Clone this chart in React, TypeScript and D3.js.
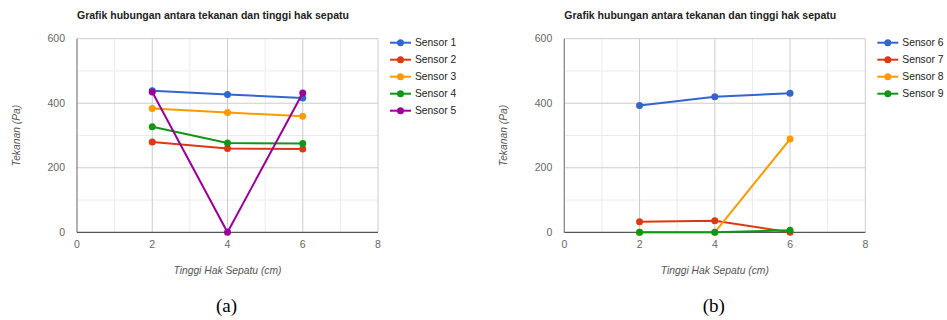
import React, { useEffect, useRef } from 'react';
import * as d3 from 'd3';

// tinggi hak sepatu (cm)
const heights = [2, 4, 6];

// panel (a)
const namesA = ['Sensor 1', 'Sensor 2', 'Sensor 3', 'Sensor 4', 'Sensor 5'];
const sensor1 = [439, 427, 416];
const sensor2 = [280, 260, 258];
const sensor3 = [384, 371, 360];
const sensor4 = [327, 277, 275];
const sensor5 = [435, 0, 432];

// panel (b)
const namesB = ['Sensor 6', 'Sensor 7', 'Sensor 8', 'Sensor 9'];
const sensor6 = [393, 420, 431];
const sensor7 = [33, 36, 0];
const sensor8 = [0, 0, 289];
const sensor9 = [0, 0, 6];

const xTicks = [0, 2, 4, 6, 8];
const yTicks = [0, 200, 400, 600];
const colors = ['#3366cc', '#dc3912', '#ff9900', '#109618', '#990099'];

const title = 'Grafik hubungan antara tekanan dan tinggi hak sepatu';
const xTitle = 'Tinggi Hak Sepatu (cm)';
const yTitle = 'Tekanan (Pa)';

const font = '"Liberation Sans", Arial, sans-serif';

function drawPanel(svg: any, left: number, names: string[], series: number[][], caption: string) {
  const width = 301, top = 38.7, bottom = 232.3;
  const x = d3.scaleLinear().domain([0, 8]).range([left, left + width]);
  const y = d3.scaleLinear().domain([0, 600]).range([bottom, top]);
  const g = svg.append('g');

  // minor grid
  d3.range(1, 8, 2).forEach(v => {
    g.append('line').attr('x1', x(v)).attr('x2', x(v)).attr('y1', top).attr('y2', bottom)
      .attr('stroke', '#ebebeb').attr('stroke-width', 1);
  });
  d3.range(100, 600, 200).forEach(v => {
    g.append('line').attr('x1', x(0)).attr('x2', x(8)).attr('y1', y(v)).attr('y2', y(v))
      .attr('stroke', '#ebebeb').attr('stroke-width', 1);
  });
  // major grid
  xTicks.slice(1).forEach(v => {
    g.append('line').attr('x1', x(v)).attr('x2', x(v)).attr('y1', top).attr('y2', bottom)
      .attr('stroke', '#cccccc').attr('stroke-width', 1);
  });
  yTicks.slice(1).forEach(v => {
    g.append('line').attr('x1', x(0)).attr('x2', x(8)).attr('y1', y(v)).attr('y2', y(v))
      .attr('stroke', '#cccccc').attr('stroke-width', 1);
  });
  // baselines
  g.append('line').attr('x1', x(0)).attr('x2', x(0)).attr('y1', top).attr('y2', bottom)
    .attr('stroke', '#888').attr('stroke-width', 1.3);
  g.append('line').attr('x1', x(0)).attr('x2', x(8)).attr('y1', y(0)).attr('y2', y(0))
    .attr('stroke', '#555').attr('stroke-width', 1.3);

  // tick labels
  g.selectAll('.yt').data(yTicks).enter().append('text')
    .attr('x', x(0) - 12).attr('y', d => y(d) + 3.7)
    .attr('text-anchor', 'end').attr('font-family', font).attr('font-size', 10.5)
    .attr('fill', '#666').text(d => d);
  g.selectAll('.xt').data(xTicks).enter().append('text')
    .attr('x', d => x(d)).attr('y', 247.5)
    .attr('text-anchor', 'middle').attr('font-family', font).attr('font-size', 10.5)
    .attr('fill', '#666').text(d => d);

  // titles
  g.append('text').attr('x', left).attr('y', 18.5).attr('font-family', font)
    .attr('font-size', 10.5).attr('font-weight', 'bold').attr('fill', '#222').text(title);
  g.append('text').attr('x', x(4)).attr('y', 274).attr('text-anchor', 'middle')
    .attr('font-family', font).attr('font-size', 10.3).attr('font-style', 'italic')
    .attr('fill', '#555').text(xTitle);
  g.append('text').attr('transform', `translate(${left - 57},${(top + bottom) / 2}) rotate(-90)`)
    .attr('text-anchor', 'middle').attr('font-family', font).attr('font-size', 10.3)
    .attr('font-style', 'italic').attr('fill', '#555').text(yTitle);

  // lines and points
  const line = d3.line<number>().x((d, i) => x(heights[i])).y(d => y(d));
  series.forEach((s, k) => {
    g.append('path').datum(s).attr('d', line).attr('fill', 'none')
      .attr('stroke', colors[k]).attr('stroke-width', 2);
    g.selectAll(null).data(s).enter().append('circle')
      .attr('cx', (d, i) => x(heights[i])).attr('cy', d => y(d)).attr('r', 3.5)
      .attr('fill', colors[k]);
  });

  // legend
  const lx = x(8) + 12;
  names.forEach((n, k) => {
    const ly = 42.7 + k * 17;
    g.append('line').attr('x1', lx).attr('x2', lx + 21).attr('y1', ly).attr('y2', ly)
      .attr('stroke', colors[k]).attr('stroke-width', 2);
    g.append('circle').attr('cx', lx + 10.5).attr('cy', ly).attr('r', 3.5).attr('fill', colors[k]);
    g.append('text').attr('x', lx + 25).attr('y', ly + 3.7).attr('font-family', font)
      .attr('font-size', 10.3).attr('fill', '#222').text(n);
  });

  // caption
  g.append('text').attr('x', x(4) - 1).attr('y', 312).attr('text-anchor', 'middle')
    .attr('font-family', '"Liberation Serif", "Times New Roman", serif').attr('font-size', 19)
    .attr('fill', '#000').text(caption);
}

export default function App() {
  const ref = useRef<SVGSVGElement>(null);

  useEffect(() => {
    const svg = d3.select(ref.current);
    svg.selectAll('*').remove();
    svg.append('rect').attr('width', 947).attr('height', 320).attr('fill', '#fff');
    drawPanel(svg, 77, namesA, [sensor1, sensor2, sensor3, sensor4, sensor5], '(a)');
    drawPanel(svg, 564.3, namesB, [sensor6, sensor7, sensor8, sensor9], '(b)');
  }, []);

  return (
    <svg ref={ref} width={947} height={320}
      style={{ position: 'absolute', left: 0, top: 0, display: 'block' }} />
  );
}
